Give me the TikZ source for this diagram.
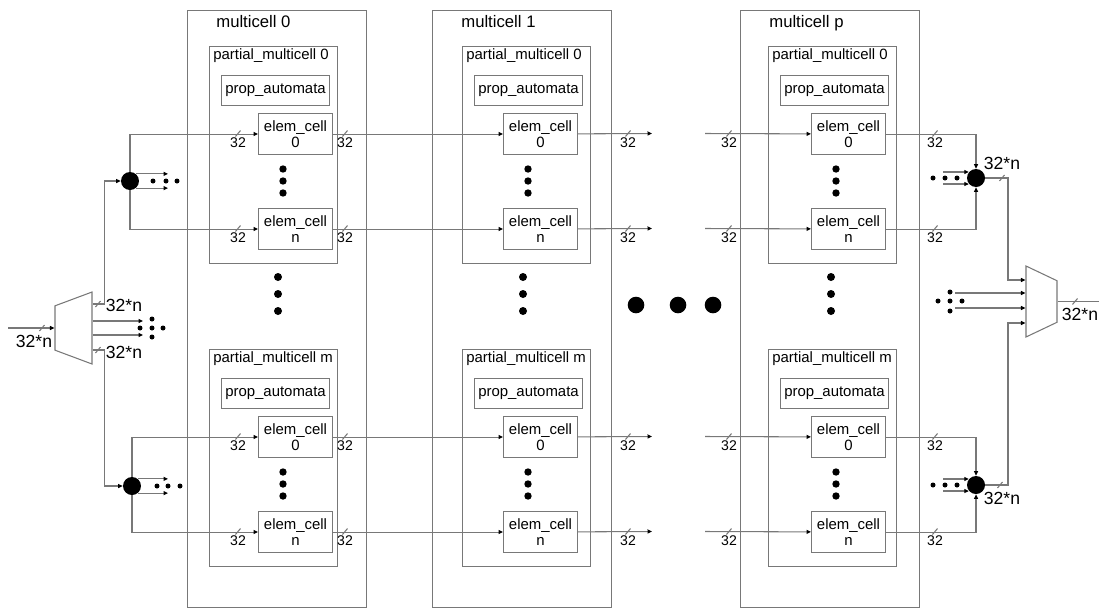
\documentclass[tikz,border=0pt]{standalone}
\usepackage{fontspec}
\setmainfont{Liberation Sans}
\usepackage{xcolor}
\usetikzlibrary{arrows.meta,shapes.geometric}

\definecolor{linegray}{RGB}{120,120,120}

\tikzset{
  pics/cut/.style={code={\draw[draw=linegray, line width=0.6pt] (-2.5,3) -- (2.5,-3);}},
  pics/bus/.style={code={
    \draw[draw=linegray, line width=0.6pt] (-2.5,3) -- (2.5,-3);
    \node[inner sep=0, font=\fontsize{8}{9}\selectfont] (-t) at (0,9) {#1};
  }},
}

\begin{document}
\begin{tikzpicture}[
    x=0.02cm, y=-0.02cm,
    wire/.style={draw=linegray, line width=0.6pt},
    arr/.style={wire, -{Triangle[length=0.9mm, width=0.8mm, color=black]}},
    mcbox/.style={draw=linegray, line width=0.7pt, minimum width=3.58cm, minimum height=11.94cm, anchor=north west, inner sep=0},
    partbox/.style={draw=linegray, line width=0.6pt, minimum width=2.56cm, minimum height=4.34cm, anchor=north west, inner sep=0},
    propbox/.style={draw=linegray, line width=0.6pt, minimum width=2.16cm, minimum height=0.6cm, anchor=north west, inner sep=0, font=\fontsize{8.5}{10}\selectfont},
    cellbox/.style={draw=linegray, line width=0.6pt, minimum width=1.48cm, minimum height=0.82cm, anchor=north west, inner sep=0, align=center, font=\fontsize{8.5}{9.5}\selectfont},
    title/.style={inner sep=0, anchor=base west, font=\fontsize{9.5}{11}\selectfont},
    subtitle/.style={inner sep=0, anchor=base west, font=\fontsize{8.5}{10}\selectfont},
    wide/.style={inner sep=0, font=\fontsize{10}{12}\selectfont},
    junc/.style={circle, fill=black, inner sep=0, minimum size=0.36cm},
    mux/.style={draw=linegray, line width=0.6pt, trapezium, trapezium stretches=true, inner sep=1pt},
]
\useasboundingbox (0,0) rectangle (1099,609);

% multicells with their partial multicells
\foreach \col/\ox/\px in {0/187/209, 1/432/462, p/740/768} {
  \node[mcbox] (mc\col) at (\ox,10) {};
  \node[title] (mc\col-t) at (\ox+29,27) {multicell \col};
  \foreach \h/\ty/\idx in {a/46/0, b/349/m} {
    \node[partbox] (mc\col\h) at (\px,\ty) {};
    \node[subtitle] (mc\col\h-t) at (\px+4,\ty+13) {partial\_multicell \idx};
    \node[propbox] (mc\col\h-p) at (\px+12,\ty+29) {prop\_automata};
    \node[cellbox] (mc\col\h-0) at (\ox+71,\ty+67) {elem\_cell\\0};
    \node[cellbox] (mc\col\h-n) at (\ox+71,\ty+162) {elem\_cell\\n};
    \foreach \k in {123,135,147}
      \fill (\ox+96,\ty+\k) circle[radius=3.7];
  }
  \foreach \k in {277,294,311}
    \fill (\ox+91,\k) circle[radius=4];
}

% big dots between multicell 1 and p
\foreach \k in {636,678,713}
  \fill (\k,305) circle[radius=8.3];

% rows of elem cells
\foreach \r/\ry in {a-0/133.5, a-n/228.5, b-0/436.5, b-n/531.5} {
  \coordinate (end\r) at (652,\ry);
  \coordinate (beg\r) at (705,\ry);
  \draw[arr] (mc0\r) -- (mc1\r);
  \draw[arr] (mc1\r) -- (end\r);
  \draw[arr] (beg\r) -- (mcp\r);
  \pic (s\r-1) at (238,\ry) {bus=32};
  \pic (s\r-2) at (345,\ry) {bus=32};
  \pic (s\r-3) at (628,\ry) {bus=32};
  \pic (s\r-4) at (729,\ry) {bus=32};
  \pic (s\r-5) at (935,\ry) {bus=32};
}

% input demux
\node[mux, rotate=90, trapezium left angle=72.7, trapezium right angle=72.7,
      minimum width=1.44cm, minimum height=0.74cm] (muxL) at (73.5,328) {};
\coordinate (inL) at (8,328);
\coordinate (dLm) at (143,328);
\node[junc] (jL1) at (130,181) {};
\node[junc] (jL2) at (132,486) {};
\coordinate (dL1) at (168,181);
\coordinate (dL2) at (168,486);

\draw[arr] (inL) -- (muxL.north);
\pic at (42,328) {cut};
\node[wide] (wIn) at (34,341) {32*n};
\draw[arr] (muxL.south |- 0,304) -- ++(12,0) |- (jL1);
\pic at (98,304) {cut};
\node[wide] (wL1) at (124,305) {32*n};
\draw[arr] (muxL.south |- 0,350) -- ++(12,0) |- (jL2);
\pic at (98,350) {cut};
\node[wide] (wL2) at (124,352) {32*n};
\draw[arr] (muxL.south |- 0,321) -- (dLm |- 0,321);
\draw[arr] (muxL.south |- 0,335) -- (dLm |- 0,335);
\foreach \p in {(152,319),(152,328),(152,337),(140,328),(163,328)}
  \fill \p circle[radius=2.5];

\draw[arr] (jL1) |- (mc0a-0);
\draw[arr] (jL1) |- (mc0a-n);
\draw[arr] (jL1.50) -- (jL1.50 -| dL1);
\draw[arr] (jL1.-50) -- (jL1.-50 -| dL1);
\foreach \p in {(153,181),(166,181),(177,181)}
  \fill \p circle[radius=2.5];

\draw[arr] (jL2) |- (mc0b-0);
\draw[arr] (jL2) |- (mc0b-n);
\draw[arr] (jL2.50) -- (jL2.50 -| dL2);
\draw[arr] (jL2.-50) -- (jL2.-50 -| dL2);
\foreach \p in {(157,486),(168,486),(180,486)}
  \fill \p circle[radius=2.5];

% output mux
\node[mux, rotate=-90, trapezium left angle=70.5, trapezium right angle=70.5,
      minimum width=1.42cm, minimum height=0.62cm] (muxR) at (1041.5,301.5) {};
\coordinate (outR) at (1099,301.5);
\coordinate (dRm) at (955,301);
\node[junc] (jR1) at (976,178) {};
\node[junc] (jR2) at (976,485) {};
\coordinate (dR1) at (943,178);
\coordinate (dR2) at (943,485);

\draw[arr] (mcpa-0) -| (jR1);
\draw[arr] (mcpa-n) -| (jR1);
\draw[arr] (dR1 |- jR1.140) -- (jR1.140);
\draw[arr] (dR1 |- jR1.220) -- (jR1.220);
\foreach \p in {(933,178),(945,178),(957,178)}
  \fill \p circle[radius=2.5];

\draw[arr] (mcpb-0) -| (jR2);
\draw[arr] (mcpb-n) -| (jR2);
\draw[arr] (dR2 |- jR2.140) -- (jR2.140);
\draw[arr] (dR2 |- jR2.220) -- (jR2.220);
\foreach \p in {(933,485),(945,485),(957,485)}
  \fill \p circle[radius=2.5];

\draw[arr] (jR1) -- ++(32,0) |- (muxR.south |- 0,280);
\pic at (1002,178) {cut};
\node[wide] (wR1) at (1002,163) {32*n};
\draw[arr] (jR2) -- ++(32,0) |- (muxR.south |- 0,323);
\pic at (1000,485) {cut};
\node[wide] (wR2) at (1002,498) {32*n};
\draw[arr] (dRm |- 0,293) -- (muxR.south |- 0,293);
\draw[arr] (dRm |- 0,308) -- (muxR.south |- 0,308);
\foreach \p in {(950,292),(950,301),(950,311),(938,301),(962,301)}
  \fill \p circle[radius=2.5];

\draw[wire] (muxR.north) -- (outR);
\pic at (1075,301.5) {cut};
\node[wide] (wOut) at (1080,314) {32*n};
\end{tikzpicture}
\end{document}
